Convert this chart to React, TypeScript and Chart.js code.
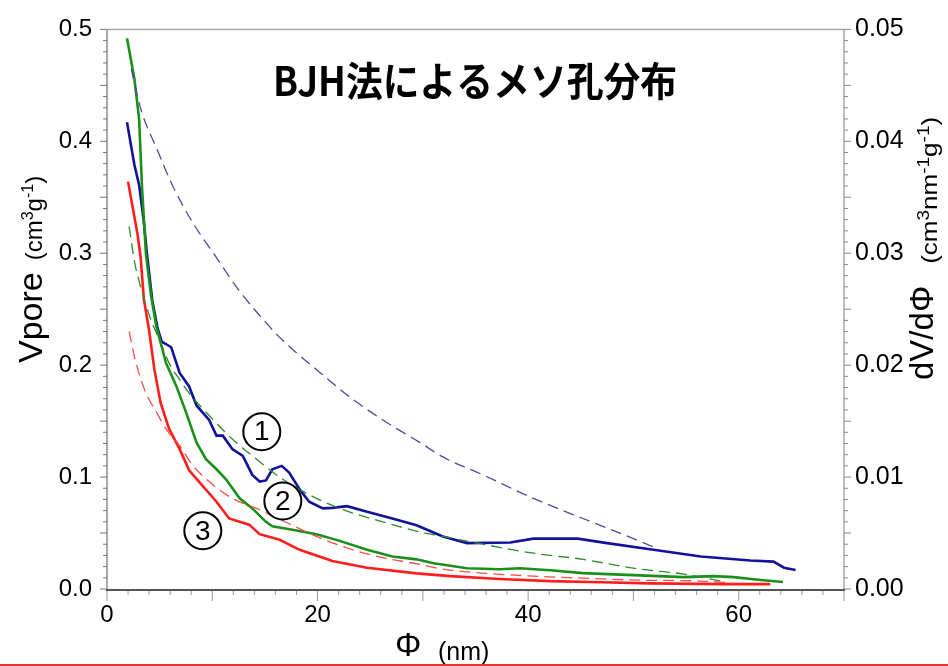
import React, { useEffect, useRef } from "react";
import { Chart, registerables } from "chart.js";

Chart.register(...registerables);

// ---- data: [Φ (nm), value] ----
// dV/dΦ (right axis, cm3 nm-1 g-1) – solid lines
const psd1: [number, number][] = [
  [1.9, 0.0417], [2.6, 0.0379], [3.05, 0.0361], [3.5, 0.0328], [3.8, 0.0299], [4.3, 0.0258],
  [4.8, 0.0233], [5.2, 0.0221], [6.1, 0.0216], [6.9, 0.0193], [7.8, 0.0181], [8.5, 0.0164],
  [9.7, 0.0151], [10.4, 0.0137], [11.0, 0.0137], [11.9, 0.0125], [12.9, 0.0119], [13.8, 0.0102],
  [14.5, 0.0096], [15.1, 0.0097], [15.7, 0.0107], [16.6, 0.011], [17.3, 0.0104], [18.3, 0.0089],
  [19.2, 0.0078], [20.5, 0.0072], [21.4, 0.00725], [22.8, 0.0074], [24.7, 0.0069], [27.1, 0.0063],
  [29.4, 0.0057], [31.9, 0.0047], [34.2, 0.0041], [38.3, 0.00416], [40.5, 0.0045], [44.7, 0.0045],
  [47.5, 0.0041], [51.9, 0.0035], [56.4, 0.0029], [61.1, 0.00255], [63.3, 0.00245], [64.3, 0.0019],
  [65.4, 0.0017],
];
const psd2: [number, number][] = [
  [1.9, 0.0492], [2.6, 0.0456], [3.05, 0.042], [3.33, 0.0358], [3.7, 0.0299], [4.2, 0.0261],
  [4.7, 0.0234], [5.6, 0.0202], [6.6, 0.0181], [7.5, 0.0158], [8.5, 0.0131], [9.4, 0.0116],
  [10.4, 0.0107], [11.3, 0.0098], [12.6, 0.0081], [13.8, 0.0072], [15.1, 0.006], [15.7, 0.0056],
  [17.6, 0.0053], [19.9, 0.0049], [22.1, 0.0043], [24.7, 0.0035], [27.1, 0.0029], [29.4, 0.00265],
  [31.0, 0.0023], [34.2, 0.00186], [37.3, 0.00177], [39.2, 0.00186], [42.1, 0.00168], [45.2, 0.00142],
  [50.0, 0.00124], [54.8, 0.00106], [57.6, 0.00115], [59.5, 0.00106], [62.1, 0.0008], [64.2, 0.00062],
];
const psd3: [number, number][] = [
  [2.0, 0.0364], [2.4, 0.0343], [2.9, 0.0317], [3.2, 0.0296], [3.5, 0.0259], [4.0, 0.0231],
  [4.5, 0.0196], [5.1, 0.0166], [5.9, 0.0143], [6.9, 0.0125], [7.8, 0.0106], [9.0, 0.0093],
  [10.4, 0.0078], [11.6, 0.0063], [13.5, 0.00575], [14.5, 0.0049], [16.4, 0.0044], [18.3, 0.0035],
  [21.4, 0.0025], [24.7, 0.0019], [29.4, 0.0014], [32.6, 0.00115], [37.3, 0.0009], [42.1, 0.0007],
  [46.9, 0.0006], [51.6, 0.0005], [58.6, 0.00044], [63.0, 0.00044],
];
// Vpore (left axis, cm3 g-1) – dashed lines
const vpore1: [number, number][] = [
  [2.3, 0.465], [2.7, 0.448], [3.3, 0.426], [4.7, 0.394], [6.2, 0.361], [8.1, 0.328],
  [10.4, 0.296], [12.6, 0.266], [15.1, 0.238], [16.7, 0.222], [19.9, 0.196], [23.0, 0.172],
  [26.2, 0.151], [29.7, 0.131], [31.9, 0.118], [35.7, 0.102], [40.5, 0.081], [45.2, 0.063],
  [50.0, 0.045], [52.3, 0.036],
];
const vpore2: [number, number][] = [
  [2.1, 0.324], [2.6, 0.293], [3.05, 0.275], [4.0, 0.245], [5.0, 0.222], [6.0, 0.2],
  [6.9, 0.187], [7.8, 0.175], [9.7, 0.155], [11.9, 0.134], [14.2, 0.116], [16.7, 0.098],
  [19.9, 0.081], [23.0, 0.069], [26.2, 0.06], [29.7, 0.051], [31.9, 0.047], [35.7, 0.04],
  [40.5, 0.032], [45.2, 0.0265], [50.0, 0.0186], [54.8, 0.0133], [58.3, 0.0071],
];
const vpore3: [number, number][] = [
  [2.1, 0.23], [2.7, 0.204], [3.7, 0.175], [4.7, 0.158], [5.6, 0.143], [6.9, 0.128],
  [8.1, 0.111], [9.7, 0.096], [11.9, 0.081], [14.2, 0.072], [16.7, 0.061], [19.9, 0.047],
  [23.0, 0.036], [26.2, 0.028], [29.7, 0.022], [31.9, 0.0177], [35.7, 0.0142], [40.5, 0.0115],
  [45.2, 0.0097], [50.0, 0.008], [56.4, 0.0071], [59.5, 0.0053],
];

const sampleLabels = ["1", "2", "3"];
const labelAnchorX = [14.7, 16.7, 9.1];
const labelAnchorY = [0.1405, 0.0786, 0.052];

const titleText = "BJH法によるメソ孔分布";
const xTickStep = 20;
const yTickStep = 0.1;
const y1TickStep = 0.01;

const SANS = "'Liberation Sans', Arial, sans-serif";

const toXY = (arr: [number, number][]) => arr.map(([x, y]) => ({ x, y }));

function drawRich(ctx: CanvasRenderingContext2D, parts: { t: string; size: number; dy?: number }[], x: number, y: number) {
  let cx = x;
  for (const p of parts) {
    ctx.font = `${p.size}px ${SANS}`;
    ctx.fillText(p.t, cx, y + (p.dy || 0));
    cx += ctx.measureText(p.t).width;
  }
}

const decorPlugin = {
  id: "decor",
  afterDraw(chart: any) {
    const { ctx, chartArea, scales } = chart;
    const { left, right, top, bottom } = chartArea;
    const x = scales.x, y = scales.y, y1 = scales.y1;
    const axisY = bottom + 1;
    const line = (x0: number, y0: number, x1: number, y1_: number, c: string, w: number) => {
      ctx.strokeStyle = c; ctx.lineWidth = w;
      ctx.beginPath(); ctx.moveTo(x0, y0); ctx.lineTo(x1, y1_); ctx.stroke();
    };
    ctx.save();
    // frame
    line(left, top, right, top, "#a8a8a8", 1.5);
    line(left, top, left, axisY, "#8c8c8c", 1.5);
    line(right, top, right, axisY, "#a8a8a8", 1.5);
    // ticks
    for (let i = 0; i <= 50; i++) {
      const py = y.getPixelForValue(i * 0.01);
      const len = i % 5 === 0 ? 7 : 4;
      line(left - len, py, left, py, "#777", 1);
      const py1 = y1.getPixelForValue(i * 0.001);
      line(right, py1, right + len, py1, "#888", 1);
    }
    for (let i = 0; i <= 35; i++) {
      const v = i * 2;
      const px = x.getPixelForValue(v);
      const len = v % 10 === 0 ? 11 : 5;
      line(px, axisY, px, axisY + len, "#999", 1);
    }
    line(left - 1, axisY, right + 1, axisY, "#555", 2);

    ctx.fillStyle = "#000";
    ctx.textBaseline = "alphabetic";
    ctx.textAlign = "left";
    // left title
    ctx.save();
    ctx.translate(42, 363);
    ctx.rotate(-Math.PI / 2);
    ctx.font = `34px ${SANS}`;
    ctx.fillText("Vpore", 0, 0);
    const w1 = ctx.measureText("Vpore").width;
    drawRich(ctx, [
      { t: "(cm", size: 24 },
      { t: "3", size: 16, dy: -9 },
      { t: "g", size: 24 },
      { t: "-1", size: 16, dy: -9 },
      { t: ")", size: 24 },
    ], w1 + 12, 0);
    ctx.restore();
    // right title
    ctx.save();
    ctx.translate(933, 380);
    ctx.rotate(-Math.PI / 2);
    ctx.font = `33px ${SANS}`;
    ctx.fillText("dV/dΦ", 0, 0);
    const w2 = ctx.measureText("dV/dΦ").width;
    ctx.save();
    ctx.translate(w2 + 22, 4);
    ctx.scale(1, 0.85);
    drawRich(ctx, [
      { t: "(cm", size: 26 },
      { t: "3", size: 19, dy: -10 },
      { t: "nm", size: 26 },
      { t: "-1", size: 19, dy: -10 },
      { t: "g", size: 26 },
      { t: "-1", size: 19, dy: -10 },
      { t: ")", size: 26 },
    ], 0, 0);
    ctx.restore();
    ctx.restore();
    // bottom title
    ctx.font = `33px ${SANS}`;
    ctx.fillText("Φ", 395, 656);
    ctx.font = `25px ${SANS}`;
    ctx.fillText("(nm)", 438, 660);

    // chart title
    ctx.save();
    ctx.font = `bold 40px 'Noto Sans CJK JP', sans-serif`;
    ctx.translate(475, 96);
    ctx.scale(0.92, 1);
    ctx.textAlign = "center";
    ctx.fillText(titleText, 0, 0);
    ctx.restore();

    // circled sample labels
    for (let i = 0; i < sampleLabels.length; i++) {
      const cx = x.getPixelForValue(labelAnchorX[i]);
      const cy = y.getPixelForValue(labelAnchorY[i]);
      ctx.beginPath();
      ctx.arc(cx, cy, 18.5, 0, Math.PI * 2);
      ctx.fillStyle = "#fff";
      ctx.fill();
      ctx.strokeStyle = "#000";
      ctx.lineWidth = 2;
      ctx.stroke();
      ctx.fillStyle = "#000";
      ctx.font = `28px ${SANS}`;
      ctx.textAlign = "center";
      ctx.textBaseline = "middle";
      ctx.fillText(sampleLabels[i], cx, cy + 1);
    }
    ctx.restore();

    // red rule at bottom of the slide
    ctx.save();
    ctx.strokeStyle = "#e8342c";
    ctx.lineWidth = 2;
    ctx.beginPath();
    ctx.moveTo(0, 665);
    ctx.lineTo(chart.width, 665);
    ctx.stroke();
    ctx.restore();
  },
};

export default function App() {
  const ref = useRef<HTMLCanvasElement | null>(null);
  useEffect(() => {
    if (!ref.current) return;
    const solid = (data: [number, number][], color: string) => ({
      data: toXY(data), yAxisID: "y1", borderColor: color, borderWidth: 2.6,
      pointRadius: 0, tension: 0, fill: false,
    });
    const dashed = (data: [number, number][], color: string) => ({
      data: toXY(data), yAxisID: "y", borderColor: color, borderWidth: 1.3,
      borderDash: [11, 6], pointRadius: 0, cubicInterpolationMode: "monotone" as const, fill: false,
    });
    const tickFont = { family: SANS, size: 24 };
    const chart = new Chart(ref.current, {
      type: "line",
      data: {
        datasets: [
          dashed(vpore1, "#4c4c9c"),
          dashed(vpore2, "#2c8c2c"),
          dashed(vpore3, "#ff4a4a"),
          solid(psd3, "#ff1c1c"),
          solid(psd2, "#1a8f1a"),
          solid(psd1, "#12129a"),
        ] as any,
      },
      options: {
        animation: false,
        responsive: false,
        devicePixelRatio: 1,
        layout: { padding: { top: 23, left: 0, right: 0, bottom: 0 } },
        plugins: { legend: { display: false }, tooltip: { enabled: false }, title: { display: false } },
        scales: {
          x: {
            type: "linear", min: 0, max: 70, position: "bottom",
            grid: { display: false, drawTicks: false }, border: { display: false },
            ticks: { stepSize: xTickStep, includeBounds: false, padding: 12, color: "#000", font: tickFont, maxRotation: 0,
              callback: (v: any) => String(v) },
            afterFit: (s: any) => { s.height = 77; },
          },
          y: {
            type: "linear", min: 0, max: 0.5, position: "left",
            grid: { display: false, drawTicks: false }, border: { display: false },
            ticks: { stepSize: yTickStep, padding: 15, color: "#000", font: tickFont,
              callback: (v: any) => Number(v).toFixed(1) },
            afterFit: (s: any) => { s.width = 107; },
          },
          y1: {
            type: "linear", min: 0, max: 0.05, position: "right",
            grid: { display: false, drawTicks: false }, border: { display: false },
            ticks: { stepSize: y1TickStep, padding: 11, color: "#000", font: { family: SANS, size: 25 },
              callback: (v: any) => Number(v).toFixed(2) },
            afterFit: (s: any) => { s.width = 104; },
          },
        },
      } as any,
      plugins: [decorPlugin],
    });
    return () => chart.destroy();
  }, []);
  return (
    <div style={{ position: "absolute", left: 0, top: 0, width: 948, height: 666, background: "#fff" }}>
      <canvas ref={ref} width={948} height={666} style={{ display: "block" }} />
    </div>
  );
}
